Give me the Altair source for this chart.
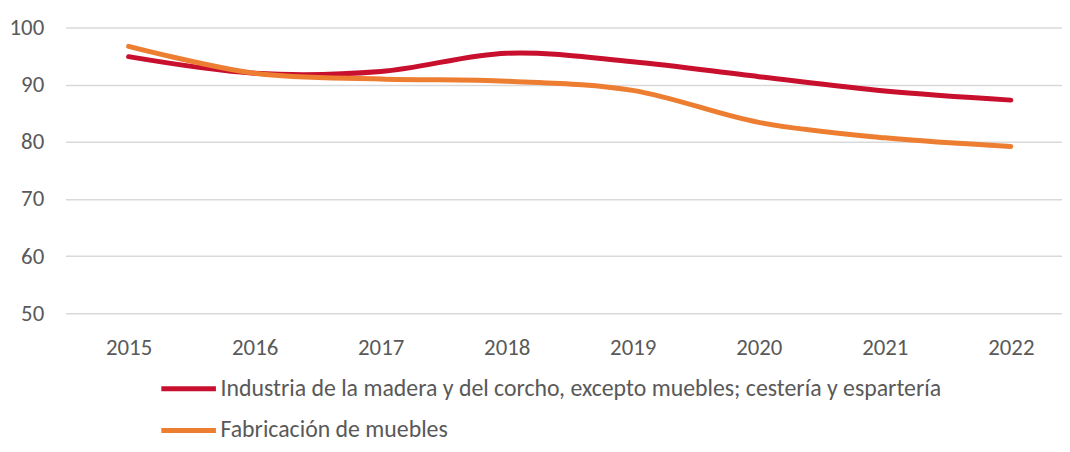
import altair as alt
import pandas as pd

years = ["2015", "2016", "2017", "2018", "2019", "2020", "2021", "2022"]
madera = [94.9, 92.0, 92.3, 95.5, 94.0, 91.4, 88.9, 87.3]
muebles = [96.7, 92.0, 91.0, 90.6, 89.0, 83.4, 80.7, 79.2]
series = [
    "Industria de la madera y del corcho, excepto muebles; cestería y espartería",
    "Fabricación de muebles",
]
colors = ["#c8102e", "#ed7d31"]

rows = []
for name, vals in zip(series, [madera, muebles]):
    for y, v in zip(years, vals):
        rows.append({"year": y, "value": v, "series": name})
df = pd.DataFrame(rows)

FONT = "Carlito, Lato, sans-serif"

chart = (
    alt.Chart(df)
    .mark_line(interpolate="cardinal", strokeWidth=5, strokeCap="round")
    .encode(
        x=alt.X(
            "year:O",
            sort=years,
            scale=alt.Scale(type="point", padding=0.453, align=0.552),
            axis=alt.Axis(
                title=None, labelAngle=0, domain=False, ticks=False, grid=False,
                labelPadding=23, labelFontSize=23, labelColor="#595959", labelFont=FONT,
            ),
        ),
        y=alt.Y(
            "value:Q",
            scale=alt.Scale(domain=[50, 100], nice=False, zero=False),
            axis=alt.Axis(
                values=[50, 60, 70, 80, 90, 100], title=None, domain=False, ticks=False,
                labelPadding=22, labelFontSize=23, labelColor="#595959", labelFont=FONT,
                gridColor="#d9d9d9", gridWidth=1.5,
            ),
        ),
        color=alt.Color(
            "series:N",
            sort=series,
            scale=alt.Scale(domain=series, range=colors),
            legend=alt.Legend(
                title=None, orient="none", legendX=94, legendY=334, direction="vertical",
                symbolType="stroke", symbolSize=3025, symbolStrokeWidth=5,
                labelFontSize=24, labelColor="#595959", labelFont=FONT,
                labelLimit=2000, rowPadding=-18, labelOffset=2,
            ),
        ),
    )
    .properties(
        width=1004, height=288,
        autosize=alt.AutoSizeParams(type="none"),
        padding={"left": 58, "top": 18, "right": 0, "bottom": 130},
    )
    .configure_view(stroke=None)
)

chart.save("out.html", embed_options={"renderer": "svg", "actions": False})
